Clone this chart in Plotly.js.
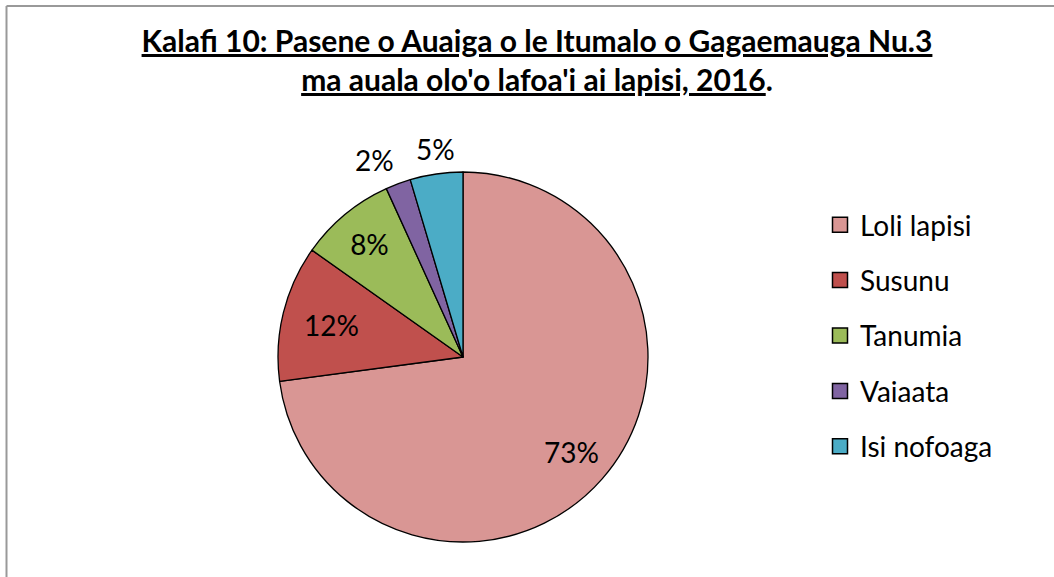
<!DOCTYPE html>
<html>
<head>
<meta charset="utf-8">
<script src="https://cdn.plot.ly/plotly-3.0.1.min.js"></script>
<style>
html,body{margin:0;padding:0;background:#fff;}
#chart{width:1054px;height:577px;}
</style>
</head>
<body>
<div id="chart"></div>
<script>
var titleLines = ["Kalafi 10: Pasene o Auaiga o le Itumalo o Gagaemauga Nu.3", "ma auala olo'o lafoa'i ai lapisi, 2016"];
var categories = ["Loli lapisi", "Susunu", "Tanumia", "Vaiaata", "Isi nofoaga"];
var percentValues = [72.9, 11.9, 8.4, 2.2, 4.6];
var sliceColors = ["#D99694", "#C0504D", "#9BBB59", "#8064A2", "#4BACC6"];
// how each percentage label is placed: by Plotly inside the slice, or as an annotation
var labelModes = ["annotInside", "plotly", "plotly", "annotOutside", "annotOutside"];

var W = 1054, H = 577;
var FONT = "Lato, 'Open Sans', sans-serif";
var LABEL_SIZE = 28;
var pieDomX = [278 / W, 648 / W];
var pieDomY = [35 / H, 405 / H];

var total = percentValues.reduce(function(a, b) { return a + b; }, 0);
var cxPx = (pieDomX[0] + pieDomX[1]) / 2 * W;
var cyPx = (1 - (pieDomY[0] + pieDomY[1]) / 2) * H;
var Rpx = Math.min((pieDomX[1] - pieDomX[0]) * W, (pieDomY[1] - pieDomY[0]) * H) / 2;

var annotations = [];
var cum = 0;
percentValues.forEach(function(v, i) {
  var mid = (cum + v / 2) / total * 2 * Math.PI; // clockwise from 12 o'clock
  cum += v;
  var txt = Math.round(v / total * 100) + "%";
  var s = Math.sin(mid), c = Math.cos(mid);
  if (labelModes[i] === "annotInside") {
    var r = 0.78 * Rpx;
    annotations.push({
      xref: "paper", yref: "paper", showarrow: false,
      x: (cxPx + r * s) / W, y: 1 - (cyPx - r * c) / H,
      xanchor: "center", yanchor: "middle",
      text: txt, font: {family: FONT, size: LABEL_SIZE, color: "#000"}
    });
  } else if (labelModes[i] === "annotOutside") {
    var r2 = 1.03 * Rpx;
    annotations.push({
      xref: "paper", yref: "paper", showarrow: false,
      x: (cxPx + r2 * s) / W, y: 1 - (cyPx - r2 * c) / H,
      xanchor: s < -0.2 ? "right" : (s > 0.2 ? "left" : "center"),
      yanchor: c > 0 ? "bottom" : "top",
      text: txt, font: {family: FONT, size: LABEL_SIZE, color: "#000"}
    });
  }
});

var traces = [{
  type: "pie",
  labels: categories,
  values: percentValues,
  sort: false,
  direction: "clockwise",
  rotation: 0,
  marker: {colors: sliceColors, line: {color: "#000", width: 1.3}},
  texttemplate: labelModes.map(function(m) { return m === "plotly" ? "%{percent:.0%}" : ""; }),
  textposition: labelModes.map(function(m) { return m === "plotly" ? "inside" : "none"; }),
  insidetextorientation: "horizontal",
  textfont: {family: FONT, size: LABEL_SIZE, color: "#000"},
  showlegend: false,
  hoverinfo: "label+percent",
  domain: {x: pieDomX, y: pieDomY}
}];

categories.forEach(function(c, i) {
  traces.push({
    type: "scatter",
    mode: "markers",
    x: [null], y: [null],
    name: c,
    legendgroup: "g" + i,
    marker: {symbol: "square", size: 15, color: sliceColors[i], line: {color: "#000", width: 1.5}},
    showlegend: true,
    hoverinfo: "skip"
  });
});

var layout = {
  width: W, height: H,
  margin: {l: 0, r: 0, t: 0, b: 0},
  paper_bgcolor: "#fff", plot_bgcolor: "#fff",
  title: {
    text: "<u>" + titleLines[0] + "</u><br><u>" + titleLines[1] + "</u>.",
    font: {family: FONT, size: 30, color: "#000", weight: "bold"},
    x: 537 / W, xanchor: "center",
    y: 1 - 52 / H, yanchor: "top", yref: "container"
  },
  xaxis: {visible: false, domain: [0.9, 1]},
  yaxis: {visible: false, domain: [0.9, 1]},
  showlegend: true,
  legend: {
    x: 820 / W, xanchor: "left",
    y: 1 - 200 / H, yanchor: "top",
    font: {family: FONT, size: 28, color: "#000"},
    tracegroupgap: 16,
    bgcolor: "rgba(0,0,0,0)",
    borderwidth: 0
  },
  annotations: annotations,
  shapes: [
    {type: "line", xref: "paper", yref: "paper", x0: 6.5 / W, x1: 1.05, y0: 1 - 6 / H, y1: 1 - 6 / H, line: {color: "#999", width: 2}},
    {type: "line", xref: "paper", yref: "paper", x0: 6.5 / W, x1: 6.5 / W, y0: 1 - 6 / H, y1: -0.05, line: {color: "#999", width: 2}}
  ]
};

Plotly.newPlot("chart", traces, layout, {displayModeBar: false, staticPlot: true});
</script>
</body>
</html>
